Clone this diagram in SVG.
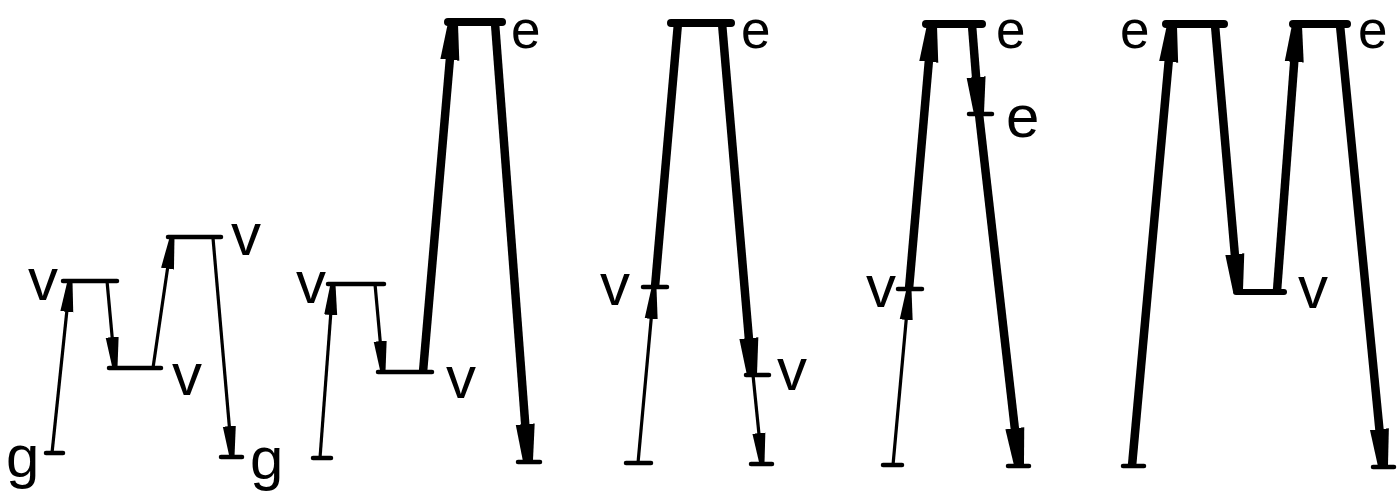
<svg xmlns="http://www.w3.org/2000/svg" width="1400" height="502" viewBox="0 0 1400 502">
<defs>
<style>
.lv{stroke:#000;stroke-width:4.5;stroke-linecap:round;fill:none}
.lvk{stroke:#000;stroke-width:8;stroke-linecap:round;fill:none}
.tn{stroke:#000;stroke-width:3.2;fill:none;marker-end:url(#ah)}
.tk{stroke:#000;stroke-width:8.5;fill:none;marker-end:url(#ahk)}
.tkn{stroke:#000;stroke-width:8.5;fill:none}
text{font-family:"Liberation Sans",Arial,sans-serif;font-size:60px;fill:#000}
text.top{font-size:53px}
</style>
<marker id="ah" markerUnits="userSpaceOnUse" markerWidth="32" markerHeight="16" viewBox="0 0 32 16" refX="31" refY="8" orient="auto">
<path d="M0,1.5 L31,5.5 L31,10.5 L0,14.5 Z" fill="#000"/>
</marker>
<marker id="ahk" markerUnits="userSpaceOnUse" markerWidth="38" markerHeight="22" viewBox="0 0 38 22" refX="37" refY="11" orient="auto">
<path d="M0,1.5 L37,6 L37,16 L0,20.5 Z" fill="#000"/>
</marker>
</defs>
<rect width="1400" height="502" fill="#fff"/>

<g id="connectors">
<!-- diagram 1 -->
<line class="tn" x1="52" y1="453" x2="70" y2="281"/>
<line class="tn" x1="107" y1="281" x2="115" y2="368"/>
<line class="tn" x1="153" y1="368" x2="172" y2="238"/>
<line class="tn" x1="213" y1="238" x2="232" y2="457"/>
<!-- diagram 2 -->
<line class="tn" x1="320" y1="458" x2="333" y2="284"/>
<line class="tn" x1="375" y1="284" x2="383" y2="372"/>
<line class="tk" x1="423" y1="372" x2="453" y2="23"/>
<line class="tk" x1="495" y1="23" x2="528" y2="461"/>
<!-- diagram 3 -->
<line class="tkn" x1="678" y1="23" x2="655" y2="287"/>
<line class="tn" x1="638" y1="463" x2="654" y2="288"/>
<line class="tk" x1="722" y1="23" x2="752" y2="375"/>
<line class="tn" x1="753" y1="375" x2="762" y2="464"/>
<!-- diagram 4 -->
<line class="tn" x1="893" y1="465" x2="909" y2="289"/>
<line class="tk" x1="909" y1="289" x2="932" y2="25"/>
<line class="tk" x1="972" y1="25" x2="979" y2="114"/>
<line class="tk" x1="979" y1="114" x2="1019" y2="465"/>
<!-- diagram 5 -->
<line class="tk" x1="1132" y1="466" x2="1172" y2="25"/>
<line class="tk" x1="1215" y1="25" x2="1238" y2="291"/>
<line class="tk" x1="1277" y1="291" x2="1297" y2="25"/>
<line class="tk" x1="1340" y1="25" x2="1383" y2="466"/>
</g>

<!-- diagram 1 levels -->
<g id="d1-g1"><line class="lv" x1="46" y1="453" x2="63" y2="453"/><text x="6" y="477">g</text></g>
<g id="d1-v1"><line class="lv" x1="63" y1="281" x2="117" y2="281"/><text x="28" y="300">v</text></g>
<g id="d1-v2"><line class="lv" x1="109" y1="368" x2="161" y2="368"/><text x="172" y="395">v</text></g>
<g id="d1-v3"><line class="lv" x1="168" y1="237" x2="221" y2="237"/><text x="231" y="255">v</text></g>
<g id="d1-g2"><line class="lv" x1="221" y1="457" x2="242" y2="457"/><text x="250" y="479">g</text></g>

<!-- diagram 2 levels -->
<g id="d2-g1"><line class="lv" x1="313" y1="458" x2="331" y2="458"/></g>
<g id="d2-v1"><line class="lv" x1="328" y1="284" x2="384" y2="284"/><text x="296" y="303">v</text></g>
<g id="d2-v2"><line class="lv" x1="378" y1="372" x2="432" y2="372"/><text x="446" y="398">v</text></g>
<g id="d2-e"><line class="lvk" x1="448" y1="22" x2="502" y2="22"/><text class="top" x="511" y="48">e</text></g>
<g id="d2-g2"><line class="lv" x1="518" y1="462" x2="540" y2="462"/></g>

<!-- diagram 3 levels -->
<g id="d3-e"><line class="lvk" x1="671" y1="23" x2="731" y2="23"/><text class="top" x="741" y="48">e</text></g>
<g id="d3-v1"><line class="lv" x1="643" y1="287" x2="667" y2="287"/><text x="600" y="305">v</text></g>
<g id="d3-g1"><line class="lv" x1="626" y1="463" x2="651" y2="463"/></g>
<g id="d3-v2"><line class="lv" x1="746" y1="375" x2="769" y2="375"/><text x="777" y="390">v</text></g>
<g id="d3-g2"><line class="lv" x1="751" y1="464" x2="772" y2="464"/></g>

<!-- diagram 4 levels -->
<g id="d4-e1"><line class="lvk" x1="926" y1="24" x2="982" y2="24"/><text class="top" x="996" y="48">e</text></g>
<g id="d4-g1"><line class="lv" x1="883" y1="465" x2="902" y2="465"/></g>
<g id="d4-v"><line class="lv" x1="898" y1="289" x2="922" y2="289"/><text x="866" y="307">v</text></g>
<g id="d4-e2"><line class="lv" x1="969" y1="114" x2="992" y2="114"/><text x="1006" y="137">e</text></g>
<g id="d4-g2"><line class="lv" x1="1008" y1="466" x2="1029" y2="466"/></g>

<!-- diagram 5 levels -->
<g id="d5-e1"><line class="lvk" x1="1166" y1="24" x2="1224" y2="24"/><text class="top" x="1120" y="48">e</text></g>
<g id="d5-g1"><line class="lv" x1="1123" y1="466" x2="1144" y2="466"/></g>
<g id="d5-v"><line class="lv" style="stroke-width:6" x1="1236" y1="292" x2="1284" y2="292"/><text x="1298" y="308">v</text></g>
<g id="d5-e2"><line class="lvk" x1="1293" y1="24" x2="1347" y2="24"/><text class="top" x="1358" y="48">e</text></g>
<g id="d5-g2"><line class="lv" x1="1373" y1="467" x2="1394" y2="467"/></g>
</svg>
